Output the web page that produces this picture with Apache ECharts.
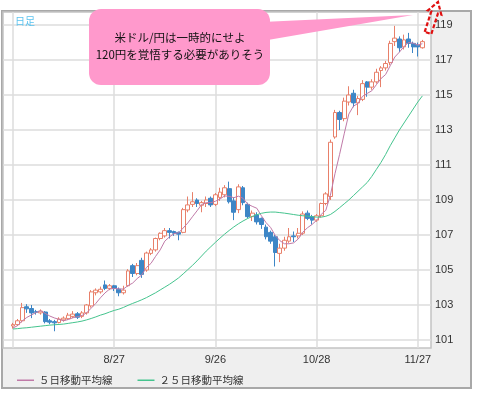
<!DOCTYPE html>
<html><head><meta charset="utf-8">
<script src="https://cdn.jsdelivr.net/npm/echarts@6/dist/echarts.min.js"></script>
<style>html,body{margin:0;padding:0;background:#fff}#c{width:478px;height:395px}</style>
</head><body><div id="c"></div>
<script>
const dates = ['7/28','7/29','7/30','7/31','8/1','8/4','8/5','8/6','8/7','8/8','8/11','8/12','8/13','8/14','8/15','8/18','8/19','8/20','8/21','8/22','8/25','8/26','8/27','8/28','8/29','9/1','9/2','9/3','9/4','9/5','9/8','9/9','9/10','9/11','9/12','9/15','9/16','9/17','9/18','9/19','9/22','9/23','9/24','9/25','9/26','9/29','9/30','10/1','10/2','10/3','10/6','10/7','10/8','10/9','10/10','10/13','10/14','10/15','10/16','10/17','10/20','10/21','10/22','10/23','10/24','10/27','10/28','10/29','10/30','10/31','11/3','11/4','11/5','11/6','11/7','11/10','11/11','11/12','11/13','11/14','11/17','11/18','11/19','11/20','11/21','11/24','11/25','11/26','11/27','11/28'];
// [open, close, low, high]
const ohlc = [
[101.80,101.88,101.65,101.98],[101.88,102.10,101.80,102.20],[102.10,102.85,102.00,103.12],[102.90,102.78,102.55,103.05],[102.80,102.55,102.25,103.00],
[102.62,102.58,102.45,102.72],[102.55,102.65,102.45,102.75],[102.60,102.05,101.95,102.65],[102.10,102.02,101.90,102.20],[102.05,101.98,101.50,102.15],
[102.00,102.20,101.95,102.30],[102.15,102.25,102.05,102.35],[102.22,102.42,102.15,102.55],[102.35,102.48,102.25,102.65],[102.50,102.30,102.20,102.60],
[102.35,102.55,102.25,102.65],[102.55,103.00,102.45,103.05],[102.95,103.75,102.85,103.85],[103.70,103.85,103.55,103.95],[103.75,103.90,103.65,104.05],
[104.15,103.95,103.85,104.40],[103.95,104.10,103.85,104.20],[104.10,103.95,103.80,104.15],[103.90,103.70,103.50,104.00],[103.70,103.85,103.60,104.10],
[104.10,104.95,104.05,105.05],[105.25,104.80,104.60,105.35],[104.80,105.25,104.70,105.40],[105.55,104.75,104.55,105.70],[105.00,105.97,104.90,106.05],
[105.95,106.15,105.85,106.25],[106.15,106.80,106.05,106.85],[106.80,107.10,106.70,107.15],[106.95,107.25,106.85,107.40],[107.25,107.15,106.80,107.40],
[107.20,107.10,106.95,107.25],[107.15,107.05,106.70,107.20],[107.15,108.45,107.10,108.55],[108.43,108.72,108.30,109.20],[108.75,108.90,108.60,109.45],
[109.00,108.80,108.60,109.10],[108.70,108.85,108.30,108.95],[108.80,109.00,108.60,109.20],[109.10,108.72,108.60,109.20],[108.75,109.30,108.65,109.40],
[109.15,109.45,108.95,109.70],[109.30,109.70,109.15,109.85],[109.65,108.90,108.80,110.05],[108.95,108.30,107.85,109.15],[108.45,109.75,108.25,109.90],
[109.70,108.85,108.70,109.80],[108.75,108.05,107.95,108.85],[108.05,108.25,107.80,108.40],[108.15,107.75,107.60,108.30],[107.95,107.60,107.35,108.00],
[107.45,106.90,106.75,107.60],[107.15,106.65,106.50,107.25],[106.90,106.00,105.20,107.00],[105.95,106.25,105.45,106.50],[106.25,106.70,106.10,106.90],
[106.65,106.90,106.55,107.40],[106.95,106.90,106.60,107.20],[106.95,107.10,106.80,107.40],[107.10,108.20,107.00,108.35],[108.25,107.95,107.85,108.40],
[108.05,107.85,107.60,108.15],[107.85,108.10,107.75,108.20],[108.10,108.80,108.00,108.85],[108.80,109.35,108.70,109.45],[109.20,112.30,109.00,112.45],
[112.60,114.00,112.50,114.15],[114.00,113.60,113.00,114.10],[113.65,114.65,113.50,114.85],[114.60,115.00,114.40,115.50],[115.10,114.55,114.30,115.30],
[114.55,114.80,113.85,114.95],[114.75,115.65,114.65,115.85],[115.75,115.45,114.90,115.80],[115.45,115.75,115.30,115.90],[115.75,116.30,115.65,116.50],
[116.40,116.55,115.45,116.65],[116.55,116.80,116.40,116.95],[116.85,117.95,116.70,118.10],[118.05,118.25,117.80,118.95],[118.20,117.70,117.45,118.35],
[117.75,118.15,117.60,118.45],[118.20,117.95,117.70,118.55],[117.95,117.75,117.40,118.05],[117.85,117.75,117.20,118.00],[117.70,118.05,117.65,118.15]
];
const ma5 = [101.69,101.82,102.09,102.29,102.43,102.57,102.68,102.52,102.37,102.26,
102.18,102.10,102.17,102.27,102.33,102.40,102.55,102.82,103.09,103.41,
103.69,103.91,103.95,103.92,103.91,104.11,104.25,104.51,104.72,105.14,
105.38,105.78,106.15,106.65,106.89,107.08,107.13,107.40,107.69,108.04,
108.38,108.74,108.85,108.85,108.93,109.06,109.23,109.21,109.13,109.22,
109.10,108.77,108.64,108.53,108.10,107.71,107.43,106.98,106.68,106.50,
106.50,106.55,106.77,107.16,107.41,107.60,107.84,108.18,108.41,109.28,
110.51,111.61,112.78,113.91,114.36,114.52,114.93,115.09,115.24,115.59,
115.94,116.17,116.67,117.17,117.45,117.77,118.00,117.96,117.86,117.93];
const ma25 = [101.63,101.65,101.68,101.70,101.73,101.76,101.79,101.82,101.85,101.87,
101.89,101.91,101.95,101.99,102.03,102.08,102.15,102.23,102.32,102.42,
102.50,102.60,102.69,102.76,102.86,102.98,103.09,103.19,103.30,103.42,
103.56,103.70,103.86,104.02,104.18,104.36,104.55,104.78,105.02,105.26,
105.52,105.80,106.08,106.33,106.58,106.82,107.05,107.26,107.46,107.64,
107.80,107.94,108.06,108.16,108.24,108.29,108.31,108.31,108.28,108.25,
108.21,108.17,108.13,108.10,108.08,108.05,108.02,108.02,108.07,108.17,
108.35,108.56,108.78,109.00,109.25,109.50,109.75,110.00,110.35,110.75,
111.15,111.60,112.10,112.55,113.00,113.40,113.80,114.20,114.60,114.95];
const gridDates = ['7/28','8/27','9/26','10/28','11/27'];
const labelDates = ['8/27','9/26','10/28','11/27'];
const yMinTick = 101, yMaxTick = 119, yStep = 2;
const seriesNames = ['５日移動平均線','２５日移動平均線'];
const calloutLines = ['米ドル/円は一時的にせよ','120円を覚悟する必要がありそう'];
const frameLabel = '日足';

const pxPerUnit = 17.5; // vertical scale shared by both grids
const chart = echarts.init(document.getElementById('c'), null, {renderer:'canvas'});
const jp = '"Noto Sans CJK JP"';
const option = {
  animation:false,
  backgroundColor:'#fff',
  grid:[
    {left:13, right:55.6, top:12, bottom:47},
    {left:3, right:47, top:25, bottom:55}
  ],
  xAxis:[
    {type:'category', gridIndex:0, data:dates, boundaryGap:false,
     axisLine:{show:false}, axisTick:{show:false},
     axisLabel:{interval:(i,v)=>labelDates.includes(v), margin:6, fontSize:11, color:'#333', fontFamily:'Liberation Sans'},
     splitLine:{show:true, interval:(i,v)=>gridDates.includes(v), lineStyle:{color:'#dcdcdc', width:1.5}}},
    {type:'value', gridIndex:1, show:false, min:0, max:1}
  ],
  yAxis:[
    {type:'value', gridIndex:0, min:yMinTick-8/pxPerUnit, max:yMinTick+328/pxPerUnit, show:false, splitLine:{show:false}},
    {type:'value', gridIndex:1, position:'right', min:yMinTick, max:yMaxTick, interval:yStep,
     axisLine:{show:false}, axisTick:{show:false},
     axisLabel:{margin:4, fontSize:11, color:'#333', fontFamily:'Liberation Sans'},
     splitLine:{show:true, lineStyle:{color:'#dcdcdc', width:1.5}}}
  ],
  legend:{left:12, top:370, itemWidth:17, itemHeight:1.5, icon:'rect', itemGap:25,
    data:seriesNames, textStyle:{fontSize:10.5, color:'#333', fontFamily:jp}},
  series:[
    {type:'candlestick', xAxisIndex:0, yAxisIndex:0, data:ohlc, barWidth:4.2, clip:false,
     itemStyle:{color:'#ffffff', color0:'#3d86c6', borderColor:'#e8806a', borderColor0:'#3d86c6', borderWidth:1}},
    {type:'line', name:seriesNames[0], xAxisIndex:0, yAxisIndex:0, data:ma5, showSymbol:false, symbol:'none',
     color:'#c07aa8', lineStyle:{width:1, color:'#c07aa8'}, z:3},
    {type:'line', name:seriesNames[1], xAxisIndex:0, yAxisIndex:0, data:ma25, showSymbol:false, symbol:'none',
     color:'#45c48e', lineStyle:{width:1, color:'#45c48e'}, z:3}
  ],
  graphic:[
    {type:'rect', z:-10, shape:{x:2,y:11,width:469,height:377}, style:{fill:'#efefef', stroke:'#a8a8a8', lineWidth:2}, silent:true},
    {type:'rect', z:-9, shape:{x:3,y:12,width:428,height:336}, style:{fill:'#ffffff', stroke:'#c4c4c4', lineWidth:1.5}, silent:true},
    {type:'text', z:50, x:15, y:21, style:{text:frameLabel, fill:'#5bc3ef', font:'10px '+jp, verticalAlign:'middle'}},
    {type:'polygon', z:100, shape:{points:[[262,22],[413,15],[262,41]]}, style:{fill:'#ff99cc'}},
    {type:'rect', z:100, shape:{x:89,y:9,width:181,height:76,r:12}, style:{fill:'#ff99cc'}},
    {type:'text', z:101, x:180, y:38, style:{text:calloutLines[0], fill:'#111', font:'11.5px '+jp, align:'center', verticalAlign:'middle'}},
    {type:'text', z:101, x:180, y:55, style:{text:calloutLines[1], fill:'#111', font:'11.5px '+jp, align:'center', verticalAlign:'middle'}},
    {type:'polygon', z:100, shape:{points:[[424.7,31.9],[431.3,11.4],[427.9,10.4],[438,2],[441.3,14.6],[437.9,13.6],[431.3,34.1]]},
     style:{fill:'rgba(255,255,255,0)', stroke:'#e01010', lineWidth:2.2, lineDash:[4,2]}}
  ]
};
chart.setOption(option);
</script></body></html>
